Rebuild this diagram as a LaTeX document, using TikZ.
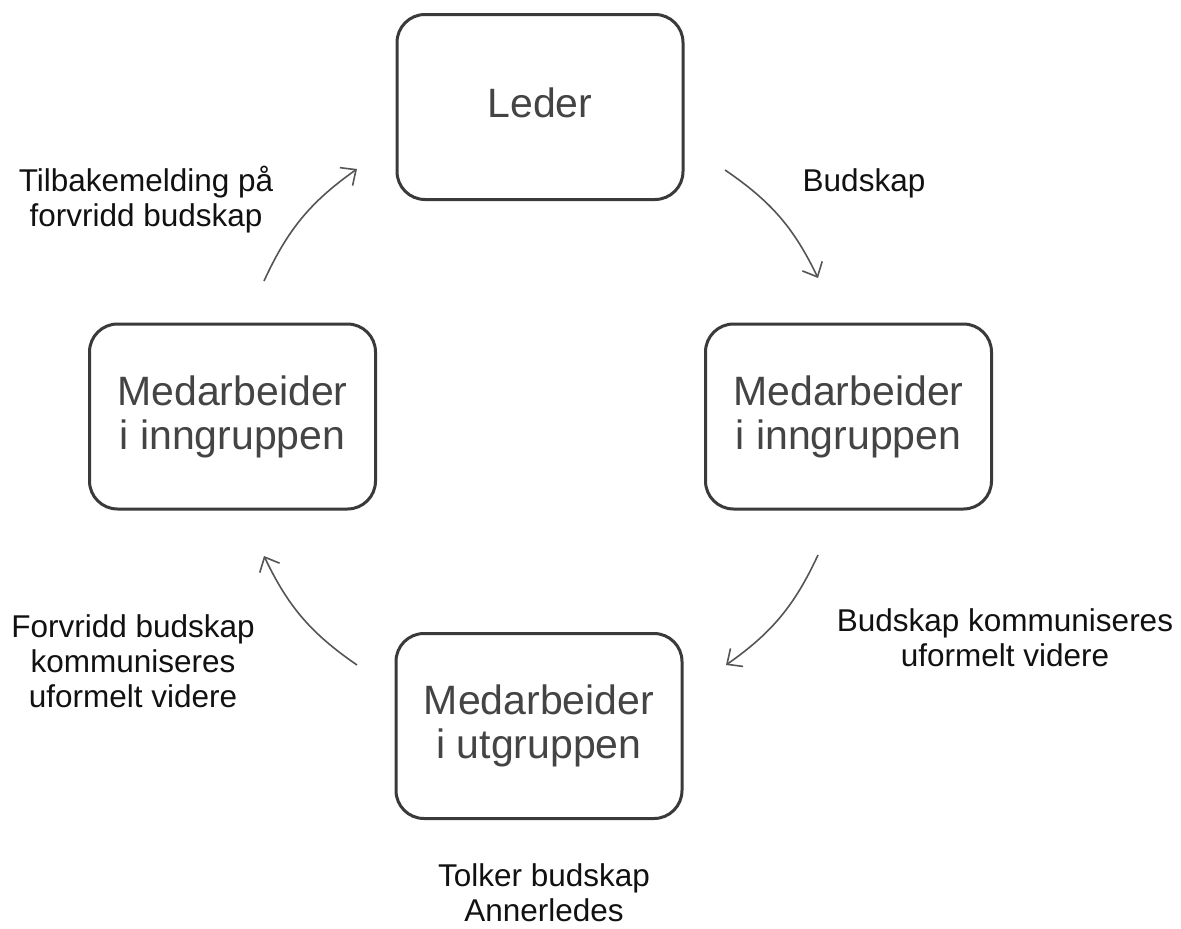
\documentclass[tikz,border=0pt]{standalone}
\usepackage{fontspec}
\setmainfont{Liberation Sans}
\usetikzlibrary{arrows.meta}
\definecolor{boxline}{HTML}{3A3A3A}
\definecolor{boxtext}{HTML}{444444}
\definecolor{arrowcol}{HTML}{555555}
\definecolor{labeltext}{HTML}{111111}
\begin{document}
\begin{tikzpicture}[x=1pt,y=-1pt,
  box/.style={draw=boxline, line width=3pt, rounded corners=28pt,
    minimum width=286pt, minimum height=185pt, align=center,
    text=boxtext, font=\fontsize{41}{44}\selectfont, inner sep=0pt},
  lbl/.style={align=center, text=labeltext,
    font=\fontsize{31.5}{35}\selectfont, inner sep=0pt},
  flow/.style={draw=arrowcol, line width=1.6pt,
    -{Straight Barb[length=12pt,width=22pt]}, bend left=15}]
\fill[white] (0,0) rectangle (1181,929);
\useasboundingbox (0,0) rectangle (1181,929);

% boxes
\node[box, text depth=8pt] (leder) at (540,107) {Leder};
\node[box] (hoyre)   at (848.5,416.5) {Medarbeider\\i inngruppen};
\node[box] (venstre) at (232.5,416.5) {Medarbeider\\i inngruppen};
\node[box] (bunn)    at (539,726)   {Medarbeider\\i utgruppen};

% arrow end points
\coordinate (a1s) at (725,170);
\coordinate (a1e) at (818,278);
\coordinate (a2s) at (818,555);
\coordinate (a2e) at (726,665);
\coordinate (a3s) at (357,665);
\coordinate (a3e) at (264,556);
\coordinate (a4s) at (264,281);
\coordinate (a4e) at (357,169);

\draw[flow] (a1s) to (a1e);
\draw[flow] (a2s) to (a2e);
\draw[flow] (a3s) to (a3e);
\draw[flow] (a4s) to (a4e);

% labels
\node[lbl] (l1) at (864,183)  {Budskap};
\node[lbl] (l2) at (1005,638) {Budskap kommuniseres\\uformelt videre};
\node[lbl] (l3) at (544,893)  {Tolker budskap\\Annerledes};
\node[lbl] (l4) at (133,661)  {Forvridd budskap\\kommuniseres\\uformelt videre};
\node[lbl] (l5) at (146,200)  {Tilbakemelding på\\forvridd budskap};
\end{tikzpicture}
\end{document}
